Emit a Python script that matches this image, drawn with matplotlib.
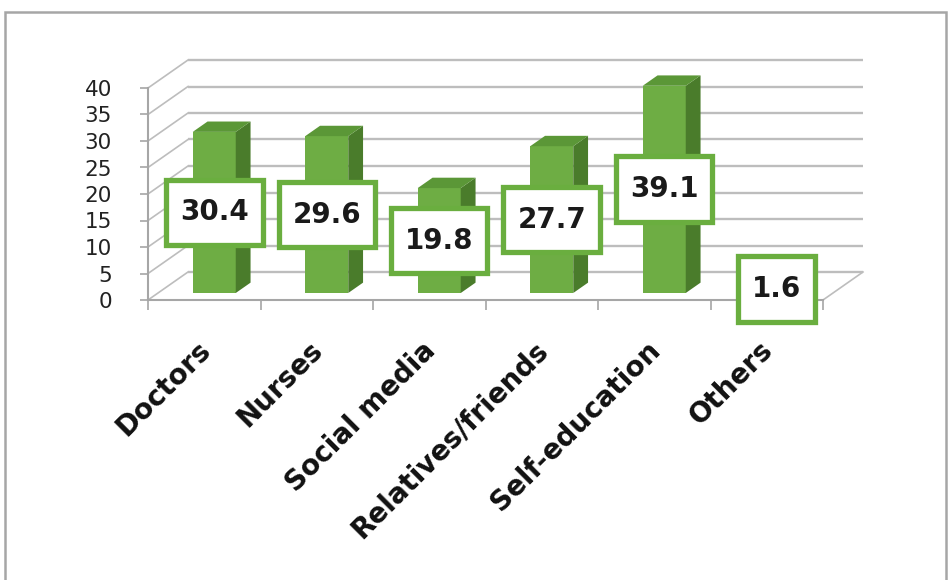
import matplotlib
matplotlib.use("Agg")
import matplotlib.pyplot as plt
from matplotlib.patches import Polygon, Rectangle
from matplotlib.path import Path

categories = ["Doctors", "Nurses", "Social media", "Relatives/friends", "Self-education", "Others"]
values = [30.4, 29.6, 19.8, 27.7, 39.1, 1.6]
yticks = [0, 5, 10, 15, 20, 25, 30, 35, 40]

W, H = 948, 580
fig = plt.figure(figsize=(W / 100, H / 100), dpi=100)
plt.rcParams['font.family'] = ['DejaVu Sans']

# front plane: x from -0.5..5.5 -> px 148..823 ; y 0..40 -> px 300..88
x0p, x1p, y0p, y1p = 148, 823, 300, 88
ax = fig.add_axes([x0p / W, (H - y0p) / H, (x1p - x0p) / W, (y0p - y1p) / H])
ax.set_xlim(-0.5, 5.5)
ax.set_ylim(0, 40)
ax.patch.set_alpha(0)

pxx = 6 / (x1p - x0p)      # data units per pixel, x
pxy = 40 / (y0p - y1p)     # data units per pixel, y
DX = 40 * pxx              # depth offset (full)
DY = 28 * pxy

grid_c = "#BDBDBD"
axis_c = "#A6A6A6"

# back wall gridlines and left wall diagonals
for v in yticks:
    ax.plot([-0.5 + DX, 5.5 + DX], [v + DY, v + DY], color=grid_c, lw=1.7,
            clip_on=False, zorder=1, solid_capstyle="butt")
    ax.plot([-0.5, -0.5 + DX], [v, v + DY], color=grid_c, lw=1.2,
            clip_on=False, zorder=1)
# floor right edge
ax.plot([5.5, 5.5 + DX], [0, DY], color=grid_c, lw=1.2, clip_on=False, zorder=1)

# bars (pseudo 3D)
front_c = "#6EAD44"
top_c = "#5B9737"
side_c = "#4A7C2B"
f0 = 0.25      # front of bar in depth fraction
fd = 0.37      # bar depth fraction
bw = 43 * pxx
xs = list(range(len(categories)))
ox, oy = f0 * DX, f0 * DY
dx, dy = fd * DX, fd * DY
ax.bar([x + ox for x in xs], values, width=bw, bottom=oy, color=front_c,
       zorder=3, clip_on=False, linewidth=0)
for x, v in zip(xs, values):
    xl = x + ox - bw / 2
    xr = x + ox + bw / 2
    b = oy
    t = oy + v
    ax.add_patch(Polygon([(xr, b), (xr + dx, b + dy), (xr + dx, t + dy), (xr, t)],
                         closed=True, fc=side_c, ec="none", zorder=3, clip_on=False))
    ax.add_patch(Polygon([(xl, t), (xl + dx, t + dy), (xr + dx, t + dy), (xr, t)],
                         closed=True, fc=top_c, ec="none", zorder=3, clip_on=False))


def label_box(x0, y0, width, height, mutation_size):
    px = 0.50 * mutation_size
    py = 0.68 * mutation_size
    return Path([(x0 - px, y0 - py), (x0 + width + px, y0 - py),
                 (x0 + width + px, y0 + height + py), (x0 - px, y0 + height + py),
                 (x0 - px, y0 - py)], closed=True)


# data labels
for x, v in zip(xs, values):
    ax.text(x + ox, oy + v / 2, f"{v:.1f}", ha="center", va="center",
            fontsize=20, fontweight="bold", color="#1a1a1a", zorder=5,
            bbox=dict(boxstyle=label_box, fc="white", ec="#6AAE3F", lw=3.8))

# axes styling
for s in ["top", "right"]:
    ax.spines[s].set_visible(False)
ax.spines["left"].set_color(axis_c)
ax.spines["bottom"].set_color(axis_c)
ax.spines["left"].set_linewidth(1.5)
ax.spines["bottom"].set_linewidth(1.5)
ax.set_yticks(yticks)
ax.set_yticklabels([str(t) for t in yticks], fontsize=15.5, color="#222222")
ax.tick_params(axis="y", length=6, width=1.2, color=axis_c, pad=20)
ax.set_xticks([x - 0.5 for x in xs] + [5.5])
ax.set_xticklabels([])
ax.tick_params(axis="x", length=7, width=1.2, color=axis_c)

# category labels
for x, c in zip(xs, categories):
    ax.text(x + 2 * pxx, -46 * pxy, c, rotation=45, rotation_mode="anchor",
            ha="right", va="center", fontsize=20, fontweight="bold",
            color="#111111", clip_on=False)

# chart border
fig.patches.append(Rectangle((5 / W, -0.1), (946 - 5) / W, 1.1 - 12 / H,
                             transform=fig.transFigure, fill=False,
                             ec="#A6A6A6", lw=1.8))

fig.savefig("out.png", dpi=100, facecolor="white")
